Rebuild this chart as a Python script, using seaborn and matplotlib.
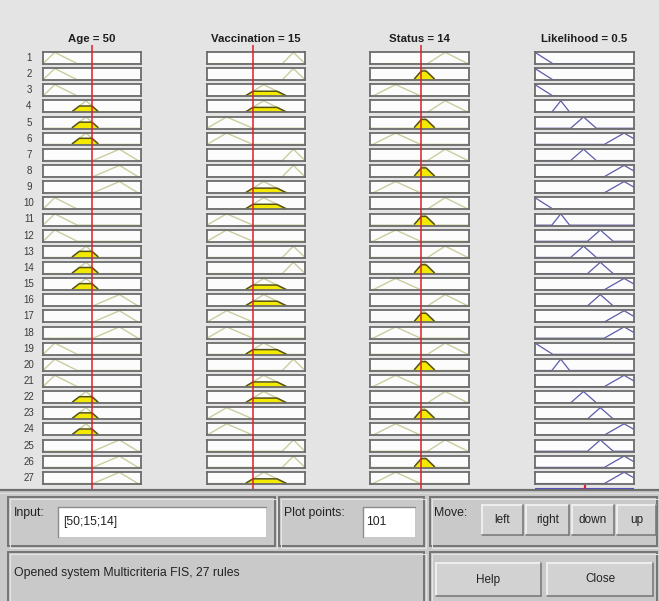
import numpy as np
import matplotlib
matplotlib.use("Agg")
import matplotlib.pyplot as plt
import seaborn as sns
from matplotlib.patches import Rectangle
from matplotlib.lines import Line2D

sns.set_theme(style="white")
plt.rcParams["font.family"] = ["Liberation Sans", "DejaVu Sans"]

# ---------------------------------------------------------------------------
# Fuzzy inference system (triangular membership functions: a, b, c)
# ---------------------------------------------------------------------------
fis_name = "Multicriteria FIS"
n_points = 101

input_names = ["Age", "Vaccination", "Status"]
input_values = [50, 15, 14]
input_ranges = [(0, 100), (0, 32), (0, 27)]

age_mfs = {"low": [0, 12, 35], "medium": [29, 44, 57], "high": [51, 78, 97]}
vaccination_mfs = {"low": [0, 6.4, 15], "medium": [12.5, 18.5, 26], "high": [24.6, 28.2, 32]}
status_mfs = {"low": [0.8, 7, 13.8], "medium": [11.9, 14.6, 17.8], "high": [15.7, 20.5, 26.7]}

output_name = "Likelihood"
output_range = (0, 1)
likelihood_mfs = {
    "very low": [-0.18, 0, 0.18],
    "low": [0.17, 0.26, 0.35],
    "medium": [0.36, 0.49, 0.62],
    "high": [0.53, 0.66, 0.79],
    "very high": [0.7, 0.9, 1.1],
}

# Rule base: antecedent terms and consequent for each of the 27 rules
rule_age = ["low", "low", "low", "medium", "medium", "medium", "high", "high", "high",
            "low", "low", "low", "medium", "medium", "medium", "high", "high", "high",
            "low", "low", "low", "medium", "medium", "medium", "high", "high", "high"]
rule_vaccination = ["high", "high", "medium", "medium", "low", "low", "high", "high", "medium",
                    "medium", "low", "low", "high", "high", "medium", "medium", "low", "low",
                    "medium", "high", "medium", "medium", "low", "low", "high", "high", "medium"]
rule_status = ["high", "medium", "low", "high", "medium", "low", "high", "medium", "low",
               "high", "medium", "low", "high", "medium", "low", "high", "medium", "low",
               "high", "medium", "low", "high", "medium", "low", "high", "medium", "low"]
rule_likelihood = ["very low", "very low", "very low", "low", "medium", "very high", "medium",
                   "very high", "very high", "very low", "low", "high", "medium", "high",
                   "very high", "high", "very high", "very high", "very low", "low",
                   "very high", "medium", "high", "very high", "high", "very high", "very high"]

input_mfs = [age_mfs, vaccination_mfs, status_mfs]
rule_inputs = [rule_age, rule_vaccination, rule_status]
n_rules = len(rule_likelihood)


def trimf(x, p):
    a, b, c = p
    x = np.asarray(x, dtype=float)
    left = np.where(b > a, (x - a) / (b - a if b > a else 1), 1.0)
    right = np.where(c > b, (c - x) / (c - b if c > b else 1), 1.0)
    return np.clip(np.minimum(left, right), 0, 1)


# Firing strengths (min for AND) and aggregated output (max of clipped consequents)
out_x = np.linspace(*output_range, n_points)
degrees = [[float(trimf(input_values[i], input_mfs[i][rule_inputs[i][r]]))
            for i in range(3)] for r in range(n_rules)]
strengths = [min(d) for d in degrees]
aggregate = np.zeros_like(out_x)
for r in range(n_rules):
    aggregate = np.maximum(aggregate, np.minimum(strengths[r], trimf(out_x, likelihood_mfs[rule_likelihood[r]])))
if aggregate.sum() > 0:
    output_value = float((aggregate * out_x).sum() / aggregate.sum())
else:
    output_value = float(np.mean(output_range))

# ---------------------------------------------------------------------------
# Figure layout (pixel based window)
# ---------------------------------------------------------------------------
W, H = 659, 601
fig = plt.figure(figsize=(W / 100, H / 100), dpi=100, facecolor="#e4e4e4")


def rect(x0, y0, x1, y1):
    return [x0 / W, 1 - y1 / H, (x1 - x0) / W, (y1 - y0) / H]


col_x = [(43, 141), (207, 305), (370, 469), (535, 634)]
row_top0, row_step, row_h = 52, 16.15, 12

faint = "#cbcd9f"
fired_fill = "#f4ea00"
fired_edge = "#55530c"
out_line = "#5c5cab"
red = "#e01e2a"

for c in range(4):
    if c < 3:
        lo, hi = input_ranges[c]
    else:
        lo, hi = output_range
    xs = np.linspace(lo, hi, n_points)
    for r in range(n_rules):
        top = row_top0 + r * row_step
        ax = fig.add_axes(rect(col_x[c][0], top, col_x[c][1], top + row_h))
        ax.set_facecolor("#fcfcfc")
        ax.set_xlim(lo, hi)
        ax.set_ylim(-0.03, 1.03)
        ax.set_xticks([])
        ax.set_yticks([])
        for s in ax.spines.values():
            s.set_color("#6c6c6c")
            s.set_linewidth(1.3)
        if c < 3:
            p = input_mfs[c][rule_inputs[c][r]]
            ys = trimf(xs, p)
            sns.lineplot(x=xs, y=ys, ax=ax, color=faint, lw=1.0, legend=False)
            deg = degrees[r][c]
            if deg > 0:
                clipped = np.minimum(ys, deg)
                mask = clipped > 0
                ax.fill_between(xs, 0, clipped, where=mask, color=fired_fill, lw=0)
                sns.lineplot(x=xs[mask], y=clipped[mask], ax=ax, color=fired_edge, lw=1.1, legend=False)
        else:
            ys = trimf(xs, likelihood_mfs[rule_likelihood[r]])
            if strengths[r] > 0:
                ax.fill_between(xs, 0, np.minimum(ys, strengths[r]), color="#3030c0", lw=0)
            sns.lineplot(x=xs, y=ys, ax=ax, color=out_line, lw=0.9, legend=False)

# Column titles
titles = [f"{n} = {v:g}" for n, v in zip(input_names, input_values)] + [f"{output_name} = {output_value:g}"]
for c in range(4):
    fig.text((col_x[c][0] + col_x[c][1]) / 2 / W, 1 - 39 / H, titles[c],
             ha="center", va="center", fontsize=8.2, fontweight="bold", color="#1e1e1e")

# Rule numbers
for r in range(n_rules):
    yc = row_top0 + r * row_step + row_h / 2
    fig.text(29 / W, 1 - yc / H, str(r + 1), ha="center", va="center", fontsize=7, color="#3a3a3a")

# Input value markers running through each input column
for c in range(3):
    ov = fig.add_axes(rect(col_x[c][0], 45, col_x[c][1], 489))
    ov.set_xlim(*input_ranges[c])
    ov.set_ylim(0, 1)
    ov.axis("off")
    ov.axvline(input_values[c], color=red, lw=1.1)

# Aggregated output and defuzzified value
agg_ax = fig.add_axes(rect(col_x[3][0], 485, col_x[3][1], 489))
agg_ax.set_xlim(*output_range)
agg_ax.set_ylim(0, 1)
agg_ax.axis("off")
sns.lineplot(x=out_x, y=aggregate, ax=agg_ax, color="#5050c4", lw=2.2, legend=False)
agg_ax.axvline(output_value, color=red, lw=1.6)

# ---------------------------------------------------------------------------
# Control panel
# ---------------------------------------------------------------------------
def add_rect(x0, y0, x1, y1, **kw):
    fig.add_artist(Rectangle((x0 / W, 1 - y1 / H), (x1 - x0) / W, (y1 - y0) / H,
                             transform=fig.transFigure, **kw))


def hline(x0, x1, y, color, lw):
    fig.add_artist(Line2D([x0 / W, x1 / W], [1 - y / H, 1 - y / H], transform=fig.transFigure, color=color, lw=lw))


def vline(x, y0, y1, color, lw):
    fig.add_artist(Line2D([x / W, x / W], [1 - y0 / H, 1 - y1 / H], transform=fig.transFigure, color=color, lw=lw))


def frame(x0, y0, x1, y1):
    add_rect(x0, y0, x1, y1, facecolor="none", edgecolor="#747474", lw=1.4)
    add_rect(x0 + 1.5, y0 + 1.5, x1 + 1.5, y1 + 1.5, facecolor="none", edgecolor="#e6e6e6", lw=0.7)


def edit_box(x0, y0, x1, y1):
    add_rect(x0, y0, x1, y1, facecolor="white", edgecolor="none")
    hline(x0, x1, y0, "#8c8c8c", 1.0)
    vline(x0, y0, y1, "#8c8c8c", 1.0)


def button(x0, y0, x1, y1, label):
    add_rect(x0, y0, x1, y1, facecolor="#d2d2d2", edgecolor="none")
    hline(x0, x1, y0, "#f4f4f4", 1.2)
    vline(x0, y0, y1, "#f4f4f4", 1.2)
    hline(x0, x1, y1, "#7c7c7c", 1.2)
    vline(x1, y0, y1, "#7c7c7c", 1.2)
    fig.text((x0 + x1) / 2 / W, 1 - (y0 + y1) / 2 / H, label, ha="center", va="center",
             fontsize=8.5, color="#222222")


add_rect(0, 490, W, H + 5, facecolor="#c9c9c9", edgecolor="none")
hline(0, W, 490, "#6e6e6e", 1.6)
hline(0, W, 492.5, "#dedede", 0.8)

frame(8, 497, 275, 546)
frame(279, 497, 424, 546)
frame(430, 497, 657, 546)
frame(8, 552, 424, 608)
frame(430, 552, 657, 608)

ui_text = dict(ha="left", va="center", fontsize=8.8, color="#222222")
fig.text(14 / W, 1 - 513 / H, "Input:", **ui_text)
edit_box(58, 507, 266, 537)
fig.text(63 / W, 1 - 522 / H, "[" + ";".join(f"{v:g}" for v in input_values) + "]", **ui_text)

fig.text(284 / W, 1 - 513 / H, "Plot points:", **ui_text)
edit_box(363, 507, 415, 537)
fig.text(366 / W, 1 - 522 / H, str(n_points), **ui_text)

fig.text(434 / W, 1 - 513 / H, "Move:", **ui_text)
for (x0, x1), lab in zip([(482, 523), (526, 569), (572, 614), (617, 656)], ["left", "right", "down", "up"]):
    button(x0, 505, x1, 535, lab)

fig.text(14 / W, 1 - 573 / H, f"Opened system {fis_name}, {n_rules} rules", **ui_text)
button(436, 563, 541, 596, "Help")
button(547, 563, 653, 596, "Close")

fig.savefig("out.png", dpi=100, facecolor=fig.get_facecolor())
